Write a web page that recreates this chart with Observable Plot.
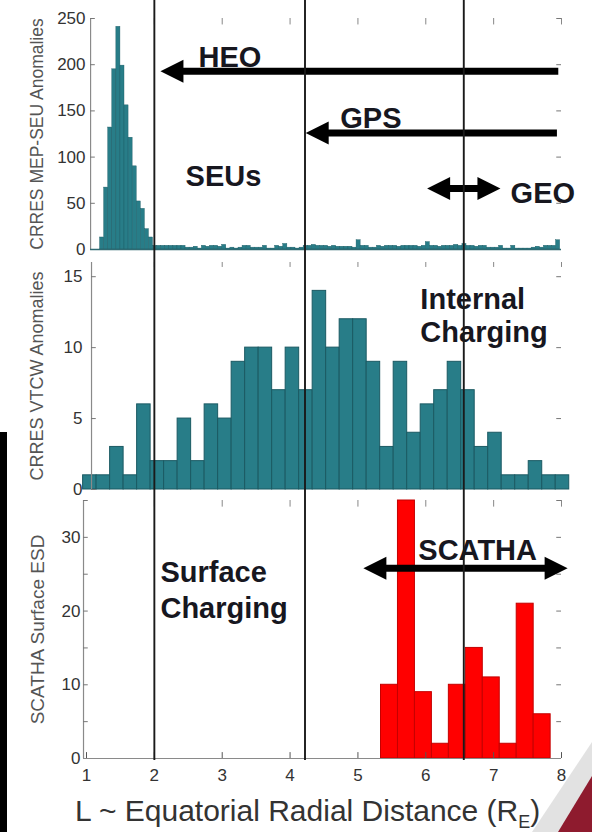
<!DOCTYPE html>
<html>
<head>
<meta charset="utf-8">
<script src="https://cdn.jsdelivr.net/npm/d3@7"></script>
<script src="https://cdn.jsdelivr.net/npm/@observablehq/plot@0.6"></script>
<style>
  body { margin: 0; background: #fff; }
  #fig { position: relative; width: 592px; height: 832px; overflow: hidden; background: #fff;
         font-family: "Liberation Sans", Arial, sans-serif; }
  #fig svg { position: absolute; left: 0; }
  .xlabel { position: absolute; left: 75px; top: 796px; font-size: 30px; line-height: 30px;
            color: #333; white-space: nowrap; }
  .xlabel sub { font-size: 18px; vertical-align: -7px; line-height: 0; }
  .slidebar { position: absolute; left: 0; top: 432px; width: 7px; height: 400px; background: #000; }
  .shade { position: absolute; right: 0; bottom: 0; width: 60px; height: 90px; background: #e2e2e2;
           clip-path: polygon(100% 0, 100% 100%, 0 100%); }
  .corner { position: absolute; right: 0; bottom: 0; width: 34px; height: 56px; background: #8e1b2e;
            clip-path: polygon(100% 0, 100% 100%, 0 100%); }
</style>
</head>
<body>
<div id="fig">
  <div class="slidebar"></div>
  <div class="shade"></div>
  <div class="corner"></div>
  <div class="xlabel">L ~ Equatorial Radial Distance (R<sub>E</sub>)</div>
</div>
<script>
// ---------------- data ----------------
const lTicks = [1, 2, 3, 4, 5, 6, 7, 8];
const regionBounds = [2.0, 4.22, 6.56];

// CRRES MEP-SEU anomalies (bins of 0.06 L starting at L = 1.2)
const seuStart = 1.2;
const seuWidth = 0.06;
const seuPeak = [13, 67, 132, 195, 241, 199, 156, 121, 90, 52, 44, 22, 13];
const seuTail = [4, 4, 4, 4, 4, 4, 4, 4, 2, 2, 3, 1, 4, 3, 4, 4, 3, 5, 1, 2,
                 1, 2, 4, 4, 2, 2, 2, 4, 1, 1, 4, 3, 6, 2, 2, 1, 2, 4, 4, 5,
                 4, 4, 4, 3, 4, 3, 3, 3, 3, 2, 10, 4, 4, 2, 2, 4, 3, 4, 4, 4,
                 3, 4, 4, 4, 4, 3, 4, 8, 4, 4, 3, 4, 4, 4, 5, 4, 6, 4, 4, 3,
                 4, 4, 2, 2, 2, 4, 1, 1, 4, 1, 1, 1, 1, 2, 3, 2, 4, 4, 4, 10];
const seuTicks = [0, 50, 100, 150, 200, 250];

// CRRES VTCW anomalies (bins of ~0.2 L)
const vtcwStart = 0.95;
const vtcwWidth = 0.199;
const vtcwCounts = [1, 1, 3, 1, 6, 2, 2, 5, 2, 6, 5, 9, 10, 10, 7, 10, 7, 14,
                    10, 12, 12, 9, 3, 9, 4, 6, 7, 9, 7, 3, 4, 1, 1, 2, 1, 1];
const vtcwTicks = [0, 5, 10, 15];

// SCATHA surface ESD (bins of 0.25 L)
const scathaStart = 5.34;
const scathaWidth = 0.25;
const scathaCounts = [10, 35, 9, 2, 10, 15, 11, 2, 21, 6];
const scathaTicks = [0, 10, 20, 30];

// orbit arrows (top panel)
const orbitNames = ["HEO", "GPS", "GEO"];
const orbitFrom = [2.09, 4.23, 6.02];
const orbitTo = [7.96, 7.94, 7.10];
const orbitLevel = [193, 126, 66];
const orbitBothEnds = [false, false, true];

// annotation words
const topWords = ["HEO", "GPS", "GEO", "SEUs"];
const topWordX = [2.65, 4.74, 7.25, 2.46];
const topWordY = [197, 131, 50, 69];
const midWords = ["Internal", "Charging"];
const midWordX = [5.92, 5.92];
const midWordY = [12.7, 10.4];
const botWords = ["Surface", "Charging", "SCATHA"];
const botWordX = [2.09, 2.09, 5.89];
const botWordY = [24.0, 19.1, 26.9];
const scathaArrowFrom = [5.08];
const scathaArrowTo = [8.09];
const scathaArrowLevel = [25.8];

// ---------------- helpers ----------------
const W = 592, ML = 86, MR = 31;
const TEAL = "#287d88", TEAL_EDGE = "#1b5a63", RED = "#ff0000", RED_EDGE = "#c40000";
const INK = "#17171f";
const bins = (start, width, counts) =>
  counts.map((c, i) => ({x1: start + i * width, x2: start + (i + 1) * width, y: c}));

const headLeft = {draw(ctx, size) { const r = Math.sqrt(size / Math.PI);
  ctx.moveTo(0, 0); ctx.lineTo(2 * r, -r); ctx.lineTo(2 * r, r); ctx.closePath(); }};
const headRight = {draw(ctx, size) { const r = Math.sqrt(size / Math.PI);
  ctx.moveTo(0, 0); ctx.lineTo(-2 * r, -r); ctx.lineTo(-2 * r, r); ctx.closePath(); }};

function arrowMarks(from, to, level, both) {
  const rows = from.map((f, i) => ({f, t: to[i], y: level[i], both: both[i]}));
  return [
    Plot.ruleY(rows, {y: "y", x1: d => d.f + 0.2, x2: d => d.both ? d.t - 0.2 : d.t,
                      stroke: "#000", strokeWidth: 7}),
    Plot.dot(rows, {x: "f", y: "y", r: 11.5, symbol: headLeft, fill: "#000", stroke: "none"}),
    Plot.dot(rows.filter(d => d.both), {x: "t", y: "y", r: 11.5, symbol: headRight,
                                         fill: "#000", stroke: "none"})
  ];
}
function words(w, xs, ys) {
  return Plot.text(w.map((t, i) => ({t, x: xs[i], y: ys[i]})),
    {x: "x", y: "y", text: "t", textAnchor: "start", lineAnchor: "bottom",
     fontSize: 29, fontWeight: "bold", fill: INK});
}
function frameTicks(axisL, yTop, leftTicks, rightTicks, yLen) {
  const xLen = 0.07;
  return [
    Plot.ruleX([axisL], {y1: 0, y2: yTop, stroke: "#8a8a8a", strokeWidth: 1.2}),
    Plot.ruleY(leftTicks, {x1: axisL, x2: axisL + xLen, stroke: "#777"}),
    Plot.ruleY(rightTicks, {x1: 8 - xLen, x2: 8, stroke: "#777"}),
    Plot.ruleX(lTicks.slice(1), {y1: yTop - yLen, y2: yTop, stroke: "#888"})
  ];
}
function yTitle(t, size) {
  return Plot.text([t], {text: d => d, frameAnchor: "left", textAnchor: "middle",
                         lineAnchor: "middle", dx: -49, rotate: -90,
                         fontSize: size, fill: "#555"});
}
const baseStyle = {background: "transparent", fontFamily: "'Liberation Sans', Arial, sans-serif",
                   fontSize: "17px", color: "#333", overflow: "visible"};

// ---------------- top panel ----------------
const seuAxisL = 1.06;
const topPlot = Plot.plot({
  width: W, height: 252, marginLeft: ML, marginRight: MR, marginTop: 18, marginBottom: 3,
  style: baseStyle,
  x: {domain: [1, 8], axis: null},
  y: {domain: [0, 250], ticks: seuTicks, tickSize: 0, tickPadding: 1, label: null},
  marks: [
    Plot.rectY(bins(seuStart, seuWidth, seuPeak.concat(seuTail)),
      {x1: "x1", x2: "x2", y: "y", fill: TEAL, stroke: TEAL_EDGE, strokeWidth: 0.4}),
    ...frameTicks(seuAxisL, 250, seuTicks, [50, 100, 150, 200, 250], 7),
    Plot.ruleY([0], {x1: seuAxisL, x2: 8, stroke: "#2f6a72", strokeWidth: 1.5}),
    ...arrowMarks(orbitFrom, orbitTo, orbitLevel, orbitBothEnds),
    words(topWords, topWordX, topWordY),
    yTitle("CRRES MEP-SEU Anomalies", 17.5)
  ]
});

// ---------------- middle panel ----------------
const vtcwAxisL = 1.074;
const midPlot = Plot.plot({
  width: W, height: 240, marginLeft: ML, marginRight: MR, marginTop: 10, marginBottom: 3,
  style: baseStyle,
  x: {domain: [1, 8], axis: null},
  y: {domain: [0, 16], ticks: vtcwTicks, tickSize: 0, tickPadding: 4, label: null},
  marks: [
    Plot.rectY(bins(vtcwStart, vtcwWidth, vtcwCounts),
      {x1: "x1", x2: "x2", y: "y", fill: TEAL, stroke: TEAL_EDGE, strokeWidth: 1}),
    ...frameTicks(vtcwAxisL, 16, vtcwTicks, [5, 10, 15], 0.35),
    words(midWords, midWordX, midWordY),
    yTitle("CRRES VTCW Anomalies", 18)
  ]
});

// ---------------- bottom panel ----------------
const scathaAxisL = 0.956;
const botPlot = Plot.plot({
  width: W, height: 340, marginLeft: ML, marginRight: MR, marginTop: 8, marginBottom: 74,
  style: baseStyle,
  x: {domain: [1, 8], ticks: lTicks, tickFormat: d => String(d), tickSize: 0, tickPadding: 10, label: null},
  y: {domain: [0, 35], ticks: scathaTicks, tickSize: 0, tickPadding: 6, label: null},
  marks: [
    Plot.rectY(bins(scathaStart, scathaWidth, scathaCounts),
      {x1: "x1", x2: "x2", y: "y", fill: RED, stroke: RED_EDGE, strokeWidth: 1}),
    ...frameTicks(scathaAxisL, 35, [5, 10, 15, 20, 25, 30, 35], [5, 10, 15, 20, 25, 30, 35], 0.9),
    Plot.ruleY([0], {x1: scathaAxisL, x2: 8, stroke: "#8a8a8a", strokeWidth: 1.2}),
    Plot.ruleX(lTicks, {y1: 0, y2: 0.8, stroke: "#555"}),
    ...arrowMarks(scathaArrowFrom, scathaArrowTo, scathaArrowLevel, [true]),
    words(botWords, botWordX, botWordY),
    yTitle("SCATHA Surface ESD", 19)
  ]
});

// ---------------- overlay: region boundaries ----------------
const overlay = Plot.plot({
  width: W, height: 832, marginLeft: ML, marginRight: MR, marginTop: 0, marginBottom: 72,
  style: {background: "transparent", overflow: "visible"},
  x: {domain: [1, 8], axis: null},
  marks: [Plot.ruleX(regionBounds, {stroke: "#1a1a1a", strokeWidth: 1.9})]
});

const fig = document.getElementById("fig");
[[topPlot, 0], [midPlot, 252], [botPlot, 492], [overlay, 0]].forEach(([el, top]) => {
  el.style.position = "absolute";
  el.style.left = "0px";
  el.style.top = top + "px";
  el.style.background = "transparent";
  fig.appendChild(el);
});
</script>
</body>
</html>
